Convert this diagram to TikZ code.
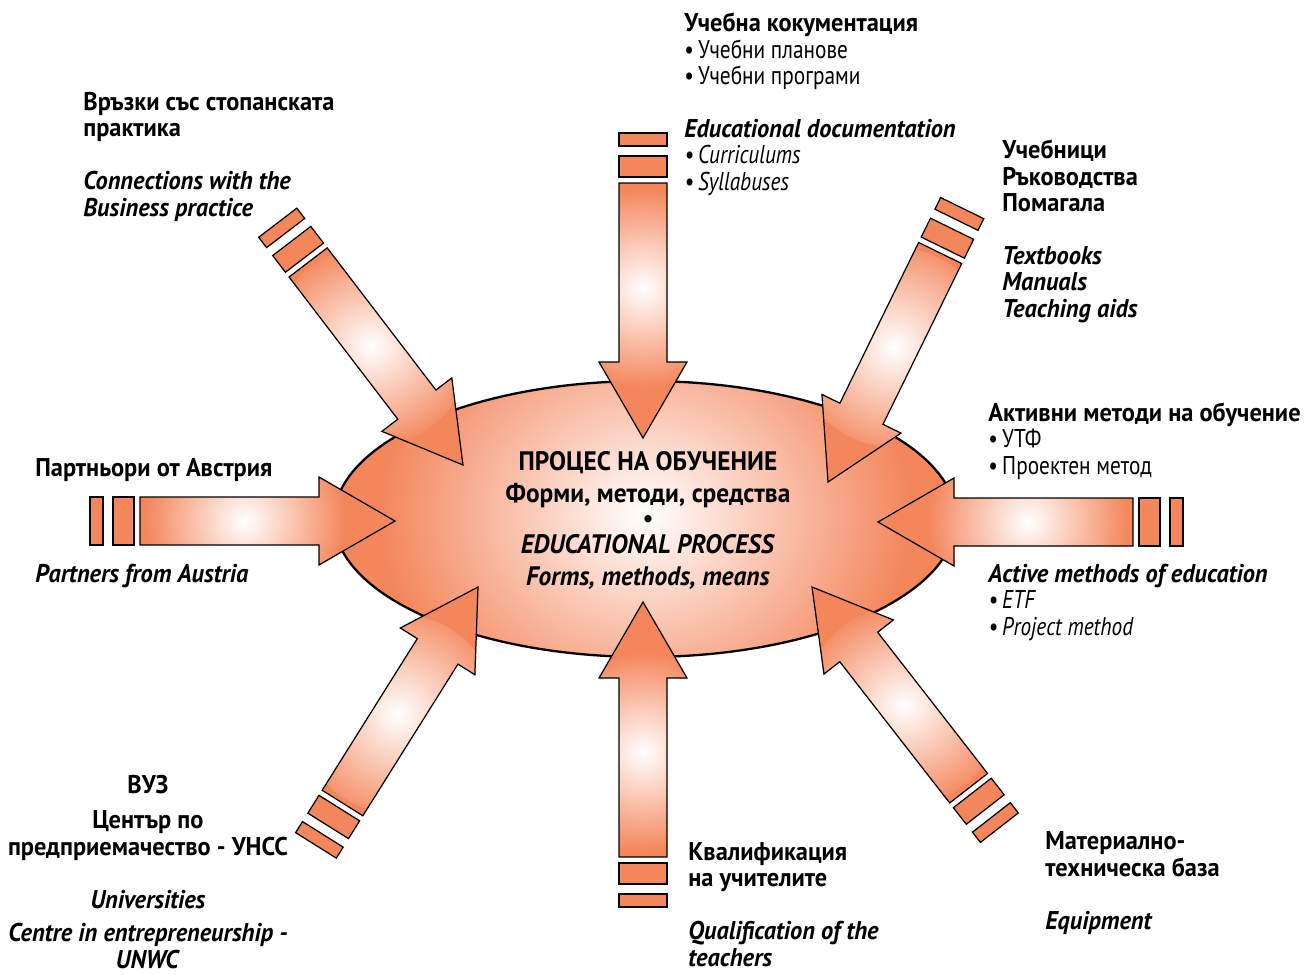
\documentclass[tikz,border=0pt]{standalone}
\usepackage{fontspec}
\setmainfont{PT Sans}[FakeStretch=0.95]
\newfontfamily\narrowfont{PT Sans}[FakeStretch=0.83]
\newcommand{\bulletfont}{\narrowfont\mdseries}
\usepackage{tikz}
\usetikzlibrary{positioning}
\definecolor{flame}{RGB}{244,134,92}
\pgfdeclareradialshading{glow}{\pgfpoint{0bp}{0bp}}{color(0bp)=(white); color(25bp)=(flame); color(50bp)=(flame)}

\tikzset{
  lbl/.style={inner sep=0pt, anchor=base west, align=left, font=\fontsize{14.6}{15}\selectfont\bfseries},
  lblc/.style={lbl, anchor=base, align=center},
  corelbl/.style={inner sep=0pt, anchor=base, align=center, font=\fontsize{15.2}{18.1}\selectfont\bfseries},
  stubbar/.style={fill=flame, draw=black, line width=0.7pt},
  arrowline/.style={draw=black, line width=0.7pt, line join=miter},
}

% arrow outline, pointing along +x with the tip at the origin
\def\arrowbody{(0,0) -- (-76,44) -- (-76,24) -- (-255,24) -- (-255,-24) -- (-76,-24) -- (-76,-44) -- cycle}

\newcommand{\feedarrow}[3]{%
  \begin{scope}[shift={#2}, rotate=#3]
    \coordinate (#1) at (0,0);
    \fill[flame] \arrowbody;
    \begin{scope}
      \clip \arrowbody;
      \shade[shading=glow] (-150,0) circle (100);
    \end{scope}
    \draw[arrowline] \arrowbody;
    % the two cut-off pieces behind the tail
    \draw[stubbar] (-261,-24) rectangle (-282,24);
    \draw[stubbar] (-292,-24) rectangle (-305,24);
  \end{scope}}

\begin{document}
\begin{tikzpicture}[x=0.02cm, y=-0.02cm]
  \fill[white] (0,0) rectangle (1308,974);
  \useasboundingbox (0,0) rectangle (1308,974);

  % central process ellipse
  \fill[flame] (645,519) ellipse (311 and 138);
  \begin{scope}
    \clip (645,519) ellipse (311 and 138);
    \shade[shading=glow] (645,515) ellipse (265 and 225);
  \end{scope}
  \draw[line width=1.3pt] (645,519) ellipse (311 and 138);

  % the eight incoming arrows
  \feedarrow{tipdoc}{(643,438)}{-90}
  \feedarrow{tipbiz}{(463,465)}{-52.6}
  \feedarrow{tipbook}{(828,482)}{-116.1}
  \feedarrow{tippart}{(395,521)}{0}
  \feedarrow{tipact}{(878,522)}{180}
  \feedarrow{tipuni}{(478,587)}{57.9}
  \feedarrow{tipqual}{(643,602)}{90}
  \feedarrow{tipequip}{(812,587)}{127.9}

  % centre text (base = last line)
  \node[corelbl] (core) at (648,585) {ПРОЦЕС НА ОБУЧЕНИЕ\\Форми, методи, средства\\[-3.6pt]{\mdseries •}\\[-3.6pt]\textit{EDUCATIONAL PROCESS}\\\textit{Forms, methods, means}};

  % labels round the ellipse (placed by the baseline of their last line)
  \node[lbl] (doc) at (684,190) {Учебна кокументация\\\bulletfont•\,Учебни планове\\\bulletfont•\,Учебни програми\\[15pt]\textit{Educational documentation}\\\bulletfont\itshape•\,Curriculums\\\bulletfont\itshape•\,Syllabuses};
  \node[lbl] (biz) at (83,216) {Връзки със стопанската\\практика\\[15pt]\textit{Connections with the}\\\textit{Business practice}};
  \node[lbl] (book) at (1002,317) {Учебници\\Ръководства\\Помагала\\[15pt]\textit{Textbooks}\\\textit{Manuals}\\\textit{Teaching aids}};
  \node[lbl] (partbg) at (35,476) {Партньори от Австрия};
  \node[lbl] (parten) at (35,582) {\textit{Partners from Austria}};
  \node[lbl] (actbg) at (988,474) {Активни методи на обучение\\\bulletfont•\,УТФ\\\bulletfont•\,Проектен метод};
  \node[lbl] (acten) at (988,635) {\textit{Active methods of education}\\\bulletfont\itshape•\,ETF\\\bulletfont\itshape•\,Project method};
  \node[lblc] (unibg) at (148,793) {ВУЗ};
  \node[lblc] (centbg) at (148,855) {Център по\\предприемачество - УНСС};
  \node[lblc] (unien) at (148,908) {\textit{Universities}};
  \node[lblc] (centen) at (148,968) {\textit{Centre in entrepreneurship -}\\\textit{UNWC}};
  \node[lbl] (qual) at (688,966) {Квалификация\\на учителите\\[15pt]\textit{Qualification of the}\\\textit{teachers}};
  \node[lbl] (equip) at (1045,929) {Материално-\\техническа база\\[15pt]\textit{Equipment}};
\end{tikzpicture}
\end{document}
